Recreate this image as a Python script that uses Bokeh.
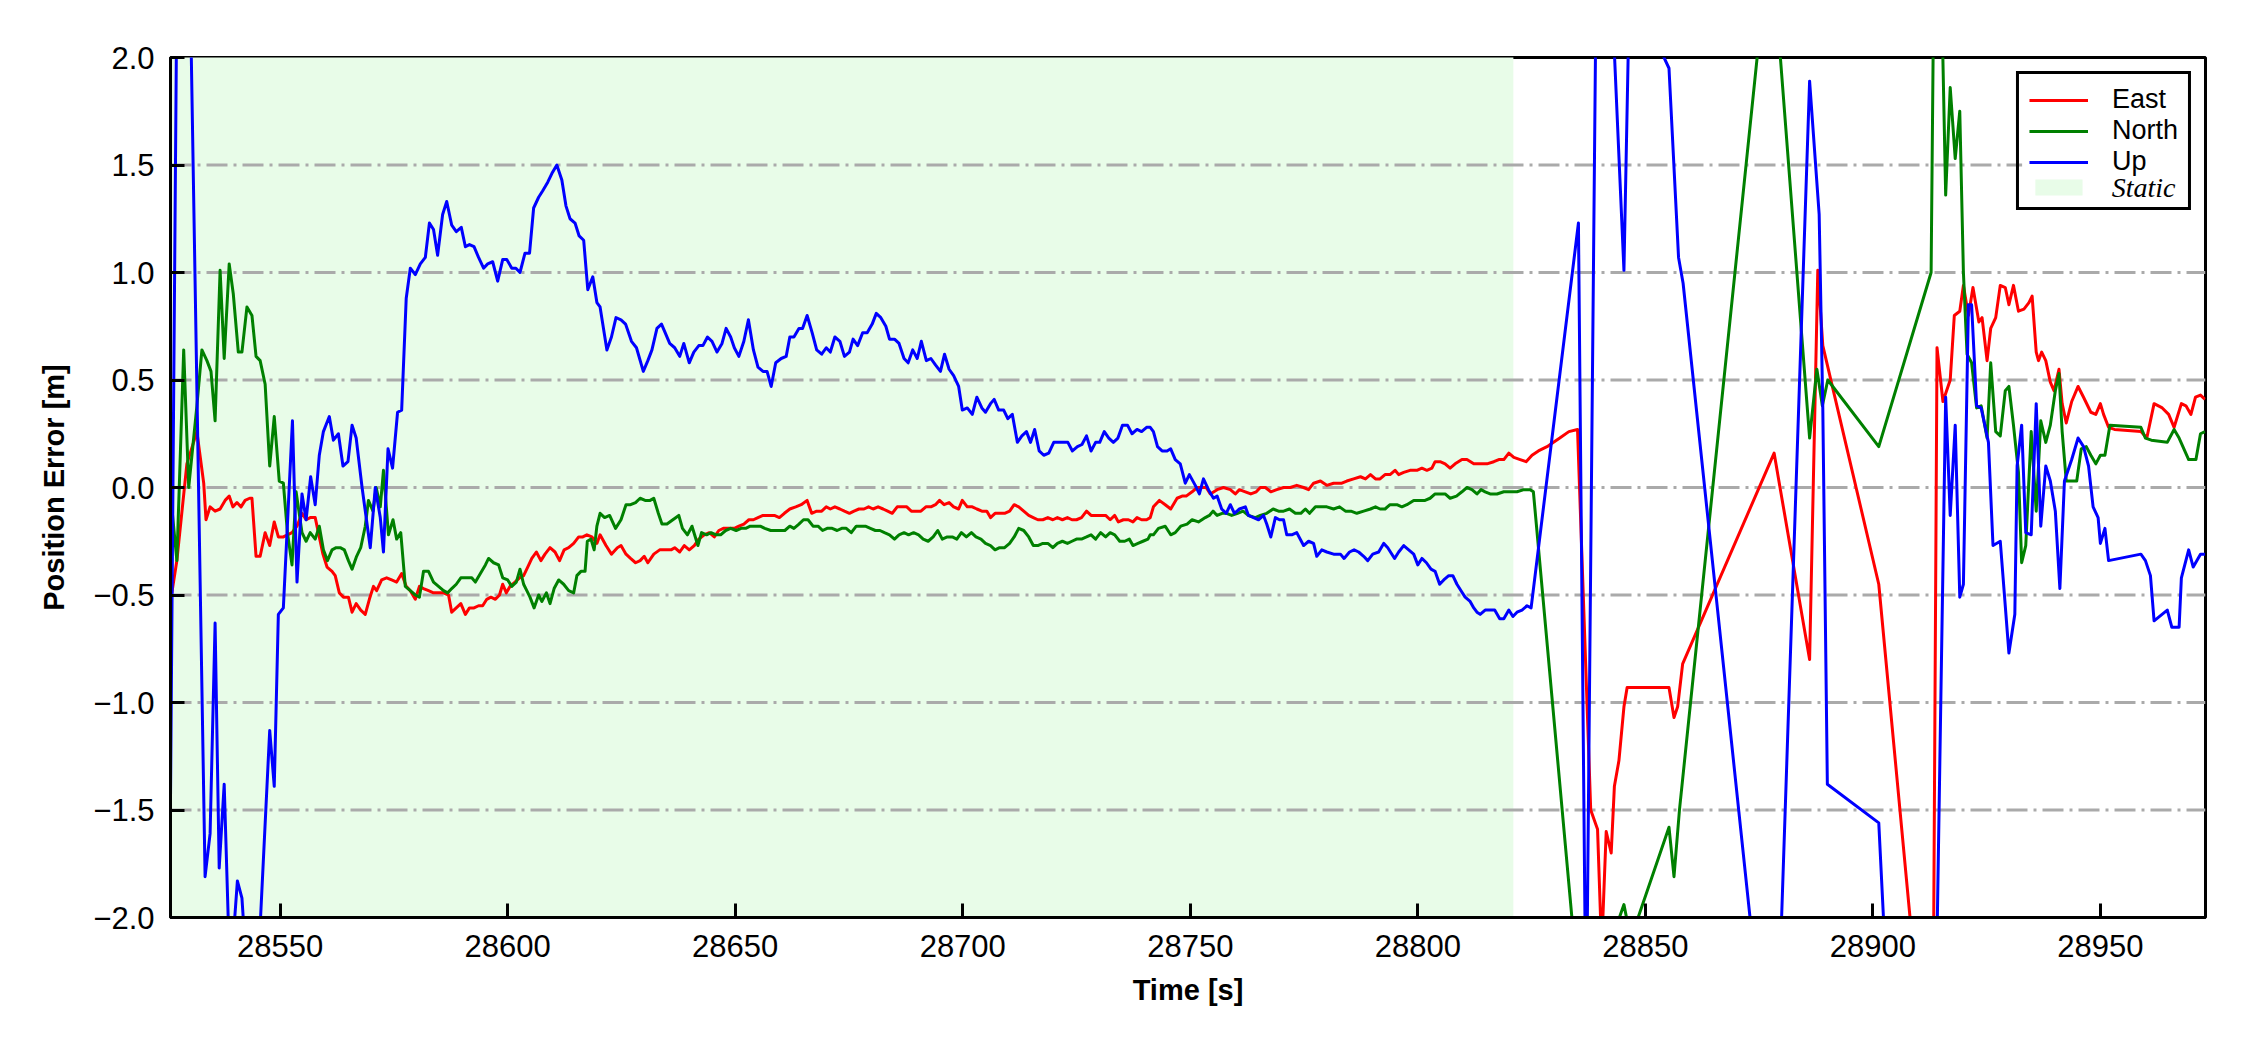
from bokeh.plotting import figure
from bokeh.models import (Range1d, FixedTicker, CustomJSTickFormatter, Legend,
                          LegendItem)
from bokeh.core.properties import value
from bokeh.embed import file_html
from bokeh.resources import INLINE

# ---------------- data (time [s], error [m]) ----------------
EAST_PTS = [
    (28526.2, -0.49), (28527.3, -0.34), (28529.5, 0.11), (28531.7, 0.26), (28533.2, 0.02), (28533.7, -0.15),
    (28534.6, -0.09), (28535.7, -0.11), (28536.8, -0.10), (28537.9, -0.06), (28538.8, -0.04), (28539.6, -0.09),
    (28540.5, -0.07), (28541.4, -0.09), (28542.3, -0.06), (28543.3, -0.05), (28543.8, -0.05), (28544.7, -0.32),
    (28545.6, -0.32), (28546.7, -0.21), (28547.7, -0.27), (28548.7, -0.16), (28549.6, -0.23), (28550.7, -0.23),
    (28551.6, -0.22), (28552.6, -0.21), (28553.7, -0.18), (28554.8, -0.12), (28555.7, -0.15), (28556.6, -0.14),
    (28557.7, -0.14), (28558.4, -0.21), (28559.4, -0.31), (28560.3, -0.37), (28561.4, -0.39), (28562.1, -0.41),
    (28563.0, -0.49), (28563.9, -0.51), (28565.0, -0.51), (28565.8, -0.58), (28566.7, -0.54), (28567.7, -0.57),
    (28568.7, -0.59), (28569.6, -0.52), (28570.5, -0.46), (28571.2, -0.48), (28572.3, -0.43), (28573.4, -0.42),
    (28574.5, -0.43), (28575.6, -0.44), (28576.7, -0.40), (28577.7, -0.46), (28578.6, -0.48), (28579.7, -0.52),
    (28580.6, -0.46), (28581.5, -0.47), (28582.6, -0.48), (28583.7, -0.49), (28584.8, -0.49), (28585.9, -0.49),
    (28587.0, -0.50), (28587.7, -0.58), (28588.7, -0.56), (28589.7, -0.54), (28590.7, -0.59), (28591.6, -0.56),
    (28592.6, -0.56), (28593.6, -0.55), (28594.5, -0.55), (28595.4, -0.52), (28596.3, -0.51), (28597.3, -0.52),
    (28598.2, -0.50), (28598.9, -0.45), (28599.7, -0.49), (28600.5, -0.46), (28601.6, -0.44), (28602.6, -0.42),
    (28603.5, -0.41), (28604.4, -0.37), (28605.3, -0.33), (28606.3, -0.30), (28607.3, -0.34), (28608.2, -0.31),
    (28609.3, -0.28), (28610.4, -0.30), (28611.4, -0.34), (28612.4, -0.29), (28613.4, -0.28), (28614.5, -0.26),
    (28615.6, -0.23), (28616.5, -0.23), (28617.4, -0.22), (28618.5, -0.23), (28619.6, -0.26),
    (28620.3, -0.22), (28621.6, -0.27), (28622.8, -0.31), (28624.1, -0.28), (28624.9, -0.27), (28626.0, -0.31),
    (28627.0, -0.33), (28628.1, -0.35), (28629.1, -0.34), (28630.0, -0.32), (28630.8, -0.35), (28632.1, -0.31),
    (28633.4, -0.29), (28634.6, -0.29), (28635.9, -0.29), (28636.7, -0.28), (28637.8, -0.30), (28638.8, -0.27),
    (28639.9, -0.29), (28641.0, -0.27), (28642.0, -0.24), (28643.2, -0.22), (28644.3, -0.21), (28645.4, -0.23),
    (28646.4, -0.20), (28647.4, -0.19), (28648.5, -0.19), (28649.8, -0.19), (28650.8, -0.18), (28651.9, -0.17),
    (28653.0, -0.15), (28654.0, -0.15), (28655.0, -0.14), (28656.1, -0.13), (28657.4, -0.13), (28658.6, -0.13),
    (28659.7, -0.14), (28660.8, -0.12), (28662.0, -0.10), (28663.3, -0.09), (28664.5, -0.08), (28665.8, -0.06),
    (28666.8, -0.12), (28667.9, -0.11), (28669.0, -0.11), (28670.0, -0.09), (28670.9, -0.10), (28671.9, -0.09),
    (28673.0, -0.10), (28674.0, -0.11), (28675.1, -0.12), (28676.1, -0.11), (28677.2, -0.10), (28678.3, -0.10),
    (28679.3, -0.09), (28680.3, -0.10), (28681.4, -0.09), (28682.5, -0.10), (28683.5, -0.11), (28684.5, -0.12),
    (28685.6, -0.09), (28686.6, -0.09), (28687.7, -0.09), (28688.7, -0.11), (28689.8, -0.11), (28690.8, -0.11),
    (28691.9, -0.09), (28693.0, -0.09), (28694.0, -0.08), (28694.9, -0.06), (28695.9, -0.08), (28697.0, -0.07),
    (28698.0, -0.09), (28699.1, -0.10), (28699.9, -0.06), (28701.0, -0.09), (28702.1, -0.09), (28703.1, -0.10),
    (28704.2, -0.11), (28705.3, -0.11), (28706.1, -0.14), (28707.1, -0.12), (28708.1, -0.12), (28709.2, -0.12),
    (28710.3, -0.11), (28711.3, -0.08), (28712.3, -0.09), (28713.4, -0.11), (28714.5, -0.13), (28715.5, -0.14),
    (28716.5, -0.15), (28717.6, -0.15), (28718.7, -0.14), (28719.8, -0.15), (28720.8, -0.14), (28721.9, -0.15),
    (28723.0, -0.14), (28724.0, -0.15), (28725.0, -0.15), (28726.1, -0.14), (28727.2, -0.11), (28728.2, -0.13),
    (28729.2, -0.13), (28730.3, -0.13), (28731.4, -0.13), (28732.4, -0.15), (28733.4, -0.13), (28734.2, -0.16),
    (28735.3, -0.15), (28736.4, -0.15), (28737.4, -0.16), (28738.3, -0.14), (28739.3, -0.15), (28740.4, -0.15),
    (28741.2, -0.14), (28741.9, -0.09), (28743.2, -0.06), (28744.5, -0.08), (28745.7, -0.10), (28747.1, -0.05),
    (28748.2, -0.04), (28749.1, -0.04), (28750.4, -0.02), (28751.5, 0.00), (28752.6, 0.00), (28753.5, 0.00),
    (28754.4, -0.03), (28755.9, -0.01), (28757.3, 0.00), (28758.8, -0.01), (28759.9, -0.03), (28760.8, -0.01),
    (28762.1, -0.02), (28763.3, -0.03), (28764.5, -0.02), (28765.4, 0.00), (28766.5, 0.00), (28767.7, -0.02),
    (28769.0, -0.01), (28770.5, 0.00), (28772.0, 0.00), (28773.4, 0.01), (28774.9, 0.00), (28776.0, -0.01),
    (28777.1, 0.02), (28778.6, 0.03), (28780.0, 0.01), (28781.5, 0.02), (28783.3, 0.02), (28784.4, 0.03),
    (28785.9, 0.04), (28787.4, 0.05), (28788.5, 0.04), (28789.6, 0.06), (28790.7, 0.04), (28791.7, 0.04),
    (28792.8, 0.06), (28793.9, 0.06), (28795.0, 0.08), (28795.8, 0.06), (28796.9, 0.07), (28798.3, 0.08),
    (28799.8, 0.08), (28800.9, 0.09), (28802.0, 0.08), (28803.1, 0.09), (28803.8, 0.12), (28804.9, 0.12),
    (28806.0, 0.11), (28807.1, 0.09), (28808.2, 0.11), (28809.7, 0.13), (28810.8, 0.13), (28812.3, 0.11),
    (28813.7, 0.11), (28815.2, 0.11), (28816.7, 0.12), (28817.8, 0.13), (28818.9, 0.13), (28820.0, 0.16),
    (28821.1, 0.14), (28822.5, 0.13), (28823.8, 0.12), (28825.1, 0.15), (28826.5, 0.17), (28828.4, 0.19),
    (28829.1, 0.20), (28831.2, 0.23), (28833.2, 0.26), (28835.1, 0.27),
    (28838.0, -1.50), (28839.5, -1.59), (28840.4, -2.15), (28841.4, -1.60), (28842.5, -1.70), (28843.2, -1.39),
    (28844.2, -1.27), (28845.3, -1.02), (28846.0, -0.93), (28855.2, -0.93), (28856.3, -1.07), (28857.1, -1.02),
    (28858.2, -0.82), (28878.3, 0.16), (28886.1, -0.80), (28887.9, 1.01), (28889.0, 0.66), (28901.3, -0.45),
    (28909.5, -2.30), (28913.3, -2.30), (28914.1, 0.65), (28915.4, 0.40), (28917.0, 0.50), (28917.9, 0.80),
    (28919.1, 0.82), (28919.9, 0.94), (28921.0, 0.80), (28922.0, 0.93), (28923.3, 0.77), (28924.0, 0.79),
    (28925.1, 0.59), (28925.9, 0.74), (28927.0, 0.79), (28928.0, 0.94), (28929.1, 0.93), (28929.9, 0.85),
    (28930.9, 0.94), (28932.0, 0.82), (28933.2, 0.83), (28934.3, 0.86), (28935.0, 0.89), (28935.9, 0.63),
    (28936.4, 0.59), (28937.1, 0.63), (28938.0, 0.59), (28939.0, 0.49), (28939.8, 0.45), (28940.9, 0.55),
    (28941.6, 0.39), (28942.5, 0.30), (28943.7, 0.40), (28945.1, 0.47), (28946.3, 0.42), (28947.9, 0.35),
    (28949.0, 0.34), (28950.0, 0.39), (28950.7, 0.34), (28951.8, 0.28), (28953.1, 0.27), (28958.9, 0.26),
    (28960.2, 0.23), (28961.8, 0.39), (28963.6, 0.37), (28965.0, 0.34), (28966.2, 0.28), (28967.8, 0.39),
    (28968.8, 0.38), (28969.9, 0.34), (28970.9, 0.42), (28972.0, 0.43), (28973.0, 0.41),
]

NORTH_PTS = [
    (28526.0, -0.05), (28527.3, -0.34), (28528.8, 0.64), (28529.9, 0.00), (28531.7, 0.38), (28532.8, 0.64),
    (28533.9, 0.59), (28534.8, 0.54), (28535.7, 0.31), (28536.8, 1.01), (28537.7, 0.60), (28538.8, 1.04),
    (28539.7, 0.90), (28540.8, 0.63), (28541.6, 0.63), (28542.7, 0.84), (28543.8, 0.80), (28544.7, 0.61),
    (28545.6, 0.59), (28546.7, 0.48), (28547.7, 0.10), (28548.7, 0.33), (28549.8, 0.03), (28550.7, 0.02),
    (28551.6, -0.21), (28552.6, -0.36), (28553.5, -0.02), (28554.8, -0.21), (28555.7, -0.25), (28556.6, -0.21),
    (28557.7, -0.24), (28558.6, -0.18), (28559.5, -0.29), (28560.4, -0.34), (28561.4, -0.29), (28562.3, -0.28),
    (28563.2, -0.28), (28564.1, -0.29), (28565.0, -0.34), (28565.8, -0.38), (28566.8, -0.32), (28567.7, -0.28),
    (28568.7, -0.18), (28569.4, -0.06), (28570.4, -0.11), (28571.1, 0.00), (28572.0, -0.09), (28572.7, 0.08),
    (28573.8, -0.22), (28574.8, -0.15), (28575.6, -0.24), (28576.5, -0.21), (28577.5, -0.46), (28578.6, -0.48),
    (28579.7, -0.50), (28580.6, -0.51), (28581.5, -0.39), (28582.6, -0.39), (28583.7, -0.44), (28584.8, -0.46),
    (28585.9, -0.48), (28586.8, -0.49), (28587.7, -0.47), (28588.7, -0.45), (28589.7, -0.42), (28591.0, -0.42),
    (28592.1, -0.42), (28592.9, -0.44), (28594.0, -0.40), (28595.1, -0.36), (28595.8, -0.33), (28596.9, -0.35),
    (28598.0, -0.36), (28598.9, -0.42), (28600.0, -0.43), (28600.9, -0.46), (28601.9, -0.44), (28602.7, -0.38),
    (28603.5, -0.45), (28604.2, -0.48), (28604.9, -0.51), (28605.8, -0.56), (28606.8, -0.50), (28607.5, -0.53),
    (28608.5, -0.49), (28609.3, -0.54), (28610.2, -0.47), (28611.2, -0.43), (28612.3, -0.45), (28613.4, -0.48),
    (28614.5, -0.49), (28615.2, -0.41), (28616.1, -0.39), (28617.0, -0.39), (28617.5, -0.25), (28618.3, -0.24),
    (28619.0, -0.29), (28619.6, -0.18),
    (28620.3, -0.12), (28621.3, -0.14), (28622.4, -0.13), (28623.7, -0.19), (28624.9, -0.15), (28626.0, -0.08),
    (28627.0, -0.08), (28628.1, -0.07), (28629.1, -0.05), (28630.2, -0.06), (28631.3, -0.06), (28632.1, -0.05),
    (28633.1, -0.12), (28633.9, -0.17), (28635.0, -0.17), (28636.3, -0.15), (28637.6, -0.13), (28638.4, -0.19),
    (28639.5, -0.22), (28640.5, -0.18), (28641.8, -0.27), (28642.6, -0.21), (28643.7, -0.22), (28644.7, -0.21),
    (28645.8, -0.22), (28646.8, -0.22), (28647.9, -0.20), (28649.0, -0.19), (28650.2, -0.20), (28651.3, -0.19),
    (28652.3, -0.19), (28653.3, -0.18), (28654.4, -0.18), (28655.5, -0.18), (28656.5, -0.19), (28657.8, -0.20),
    (28658.9, -0.20), (28659.9, -0.20), (28660.9, -0.20), (28662.0, -0.18), (28662.9, -0.19), (28664.0, -0.17),
    (28665.0, -0.15), (28666.0, -0.15), (28667.1, -0.18), (28668.2, -0.18), (28669.2, -0.20), (28670.2, -0.19),
    (28671.3, -0.19), (28672.4, -0.20), (28673.4, -0.19), (28674.4, -0.19), (28675.5, -0.21), (28676.6, -0.18),
    (28677.6, -0.18), (28678.6, -0.18), (28679.7, -0.19), (28680.8, -0.20), (28681.8, -0.20), (28682.8, -0.21),
    (28683.9, -0.22), (28685.0, -0.24), (28686.0, -0.22), (28687.1, -0.21), (28688.1, -0.22), (28689.2, -0.21),
    (28690.3, -0.22), (28691.3, -0.24), (28692.4, -0.25), (28693.5, -0.23), (28694.5, -0.20), (28695.5, -0.24),
    (28696.6, -0.23), (28697.7, -0.23), (28698.7, -0.24), (28699.7, -0.21), (28700.8, -0.23), (28701.9, -0.21),
    (28702.9, -0.23), (28704.0, -0.24), (28705.0, -0.26), (28706.1, -0.27), (28707.1, -0.29), (28708.1, -0.28),
    (28709.2, -0.28), (28710.3, -0.26), (28711.3, -0.23), (28712.3, -0.19), (28713.4, -0.20), (28714.5, -0.23),
    (28715.5, -0.27), (28716.5, -0.27), (28717.6, -0.26), (28718.7, -0.26), (28719.8, -0.28), (28720.8, -0.26),
    (28721.9, -0.25), (28723.0, -0.26), (28724.0, -0.25), (28725.0, -0.24), (28726.1, -0.24), (28727.2, -0.23),
    (28728.2, -0.22), (28729.2, -0.24), (28730.3, -0.21), (28731.4, -0.23), (28732.4, -0.21), (28733.4, -0.22),
    (28734.5, -0.25), (28735.6, -0.25), (28736.6, -0.24), (28737.4, -0.27), (28738.5, -0.26), (28739.6, -0.25),
    (28740.7, -0.24),
    (28741.2, -0.22), (28741.9, -0.22), (28743.0, -0.19), (28744.5, -0.18), (28745.7, -0.22), (28746.7, -0.21),
    (28747.9, -0.18), (28749.3, -0.17), (28750.4, -0.15), (28751.8, -0.16), (28753.3, -0.14), (28754.2, -0.13),
    (28755.0, -0.11), (28755.9, -0.13), (28757.0, -0.12), (28758.0, -0.12), (28759.1, -0.13), (28760.4, -0.12),
    (28761.6, -0.11), (28762.8, -0.13), (28764.3, -0.14), (28765.4, -0.13), (28766.8, -0.12), (28768.2, -0.10),
    (28769.4, -0.11), (28770.5, -0.11), (28771.8, -0.10), (28773.1, -0.12), (28774.3, -0.12), (28775.3, -0.10),
    (28776.2, -0.12), (28777.5, -0.09), (28778.6, -0.09), (28780.0, -0.09), (28781.5, -0.10), (28782.8, -0.09),
    (28784.1, -0.11), (28785.3, -0.11), (28786.6, -0.12), (28788.1, -0.11), (28789.6, -0.10), (28790.7, -0.09),
    (28791.7, -0.10), (28792.8, -0.10), (28793.9, -0.08), (28795.4, -0.08), (28796.5, -0.09), (28797.6, -0.08),
    (28799.1, -0.06), (28800.2, -0.06), (28801.6, -0.06), (28802.7, -0.05), (28803.8, -0.03), (28804.9, -0.03),
    (28806.0, -0.03), (28807.1, -0.05), (28808.5, -0.04), (28809.7, -0.02), (28810.8, 0.00), (28811.9, -0.01),
    (28813.0, -0.03), (28813.9, -0.01), (28814.8, -0.02), (28815.9, -0.03), (28817.4, -0.03), (28818.9, -0.02),
    (28820.3, -0.02), (28821.8, -0.02), (28823.3, -0.01), (28824.7, -0.01), (28825.4, -0.02),
    (28836.0, -2.50), (28845.3, -1.94), (28846.8, -2.10), (28855.2, -1.58), (28856.3, -1.81), (28857.5, -1.50),
    (28877.5, 2.60), (28886.1, 0.23), (28887.7, 0.55), (28888.9, 0.38), (28890.1, 0.50), (28901.3, 0.19),
    (28912.8, 1.00), (28913.5, 2.60), (28915.0, 2.40), (28916.0, 1.36), (28917.0, 1.86), (28918.1, 1.53),
    (28919.1, 1.75), (28919.9, 1.00), (28920.7, 0.62), (28921.7, 0.58), (28922.8, 0.37), (28923.8, 0.38),
    (28925.1, 0.23), (28925.9, 0.58), (28927.0, 0.26), (28928.0, 0.24), (28929.1, 0.45), (28929.9, 0.47),
    (28930.9, 0.29), (28932.0, 0.07), (28932.7, -0.35), (28933.6, -0.27), (28934.8, 0.26), (28935.9, -0.11),
    (28936.9, 0.31), (28938.0, 0.21), (28939.0, 0.29), (28940.1, 0.45), (28940.9, 0.53), (28941.6, 0.26),
    (28942.5, 0.03), (28944.8, 0.03), (28945.8, 0.18), (28946.9, 0.19), (28947.9, 0.15), (28949.0, 0.11),
    (28950.0, 0.15), (28951.0, 0.15), (28952.1, 0.29), (28958.9, 0.28), (28959.9, 0.23), (28961.2, 0.22),
    (28964.7, 0.21), (28966.2, 0.27), (28967.3, 0.23), (28969.4, 0.13), (28971.0, 0.13), (28972.0, 0.25),
    (28973.0, 0.26),
]

UP_PTS = [
    (28525.9, -1.45), (28527.4, 2.60), (28530.0, 2.60), (28533.5, -1.81), (28534.6, -1.61), (28535.7, -0.63),
    (28536.6, -1.77), (28537.7, -1.38), (28539.0, -2.30), (28540.6, -1.83), (28541.6, -1.91), (28542.8, -2.30),
    (28545.0, -2.30), (28547.7, -1.13), (28548.7, -1.39), (28549.6, -0.59), (28550.7, -0.56), (28552.7, 0.31),
    (28553.7, -0.44), (28554.8, -0.03), (28555.7, -0.15), (28556.7, 0.05), (28557.7, -0.08), (28558.6, 0.15),
    (28559.5, 0.26), (28560.8, 0.33), (28561.7, 0.22), (28562.8, 0.25), (28563.8, 0.10), (28564.9, 0.12),
    (28565.8, 0.29), (28566.7, 0.23), (28568.0, 0.00), (28569.8, -0.28), (28570.9, 0.00), (28572.0, -0.14),
    (28572.7, -0.30), (28573.7, 0.18), (28574.7, 0.09), (28575.8, 0.35), (28576.7, 0.36), (28577.7, 0.88),
    (28578.6, 1.02), (28579.7, 0.99), (28580.8, 1.04), (28581.9, 1.07), (28582.8, 1.23), (28583.7, 1.20),
    (28584.6, 1.08), (28585.7, 1.27), (28586.6, 1.33), (28587.7, 1.22), (28588.7, 1.19), (28589.8, 1.21),
    (28590.7, 1.12), (28591.6, 1.13), (28592.6, 1.12), (28593.6, 1.07), (28594.7, 1.02), (28595.6, 1.04),
    (28596.7, 1.05), (28597.8, 0.96), (28598.9, 1.06), (28599.8, 1.06), (28600.9, 1.02), (28601.8, 1.02),
    (28602.7, 1.00), (28603.8, 1.09), (28604.8, 1.09), (28605.7, 1.30), (28606.8, 1.35), (28607.7, 1.38),
    (28608.8, 1.42), (28609.7, 1.46), (28610.8, 1.50), (28611.9, 1.43), (28612.8, 1.31), (28613.7, 1.25),
    (28614.8, 1.23), (28615.7, 1.17), (28616.7, 1.15), (28617.6, 0.92), (28618.7, 0.98), (28619.6, 0.86),
    (28620.3, 0.84), (28621.8, 0.64), (28622.8, 0.70), (28623.8, 0.79), (28624.9, 0.78), (28625.9, 0.76),
    (28627.2, 0.68), (28628.3, 0.65), (28629.8, 0.54), (28630.8, 0.59), (28631.7, 0.64), (28632.8, 0.74),
    (28633.8, 0.76), (28634.6, 0.72), (28635.6, 0.67), (28636.7, 0.65), (28637.8, 0.61), (28638.7, 0.67),
    (28639.9, 0.58), (28640.9, 0.63), (28642.0, 0.66), (28642.9, 0.66), (28643.9, 0.70), (28644.9, 0.68),
    (28646.0, 0.63), (28647.1, 0.67), (28648.0, 0.74), (28649.0, 0.70), (28649.8, 0.65), (28650.8, 0.61),
    (28651.9, 0.68), (28652.9, 0.78), (28654.0, 0.64), (28655.0, 0.56), (28656.1, 0.54), (28657.0, 0.54),
    (28657.9, 0.47), (28658.9, 0.58), (28660.1, 0.60), (28661.2, 0.61), (28662.0, 0.70), (28662.9, 0.70),
    (28664.0, 0.74), (28664.8, 0.74), (28665.8, 0.80), (28666.9, 0.72), (28667.9, 0.64), (28669.0, 0.62),
    (28670.0, 0.65), (28670.9, 0.63), (28671.9, 0.70), (28673.0, 0.68), (28674.0, 0.61), (28675.1, 0.63),
    (28675.9, 0.69), (28676.9, 0.66), (28678.0, 0.72), (28679.0, 0.72), (28680.1, 0.76), (28681.0, 0.81),
    (28682.0, 0.79), (28683.1, 0.75), (28683.9, 0.69), (28685.0, 0.69), (28686.0, 0.67), (28687.1, 0.60),
    (28688.0, 0.58), (28689.0, 0.64), (28690.0, 0.60), (28690.9, 0.68), (28692.0, 0.59), (28693.0, 0.60),
    (28694.0, 0.57), (28695.1, 0.54), (28696.0, 0.62), (28697.0, 0.55), (28698.0, 0.52), (28699.1, 0.47),
    (28699.9, 0.36), (28701.0, 0.37), (28702.1, 0.34), (28703.1, 0.42), (28704.2, 0.37), (28705.0, 0.35),
    (28706.1, 0.39), (28706.9, 0.41), (28707.9, 0.36), (28709.0, 0.36), (28709.9, 0.32), (28710.9, 0.34),
    (28712.0, 0.21), (28713.0, 0.24), (28714.0, 0.26), (28714.9, 0.21), (28715.8, 0.27), (28716.8, 0.17),
    (28717.8, 0.15), (28718.9, 0.16), (28720.0, 0.21), (28721.0, 0.21), (28722.1, 0.21), (28723.1, 0.21),
    (28724.1, 0.17), (28725.2, 0.19), (28726.2, 0.20), (28727.2, 0.24), (28728.2, 0.17), (28729.2, 0.21),
    (28730.1, 0.21), (28731.1, 0.26), (28732.1, 0.23), (28733.1, 0.21), (28734.1, 0.23), (28735.1, 0.29),
    (28736.2, 0.29), (28737.2, 0.25), (28738.3, 0.27), (28739.3, 0.26), (28740.4, 0.28),
    (28741.2, 0.28), (28741.9, 0.26), (28742.8, 0.19), (28743.8, 0.17), (28744.9, 0.17), (28745.7, 0.18),
    (28746.7, 0.13), (28747.8, 0.11), (28748.9, 0.02), (28749.8, 0.06), (28751.1, 0.01), (28752.0, -0.03),
    (28752.9, 0.04), (28754.0, -0.01), (28755.1, -0.05), (28755.9, -0.04), (28756.9, -0.10), (28757.9, -0.12),
    (28758.8, -0.08), (28759.7, -0.12), (28760.8, -0.10), (28762.1, -0.09), (28762.8, -0.13), (28763.9, -0.14),
    (28765.0, -0.15), (28766.1, -0.13), (28766.8, -0.17), (28767.7, -0.23), (28768.7, -0.14), (28769.6, -0.15),
    (28770.5, -0.15), (28771.2, -0.22), (28772.3, -0.22), (28773.4, -0.21), (28774.9, -0.27), (28776.0, -0.25),
    (28777.1, -0.26), (28777.8, -0.32), (28778.9, -0.29), (28780.0, -0.30), (28781.5, -0.31), (28783.0, -0.31),
    (28783.8, -0.33), (28785.0, -0.30), (28786.0, -0.29), (28787.0, -0.30), (28788.1, -0.32), (28789.0, -0.34),
    (28790.1, -0.31), (28791.4, -0.30), (28792.5, -0.26), (28793.4, -0.28), (28794.9, -0.33), (28795.8, -0.30),
    (28796.9, -0.27), (28798.0, -0.29), (28799.1, -0.31), (28800.0, -0.36), (28800.9, -0.33), (28801.9, -0.35),
    (28802.9, -0.38), (28803.8, -0.39), (28804.8, -0.45), (28805.7, -0.43), (28806.8, -0.41), (28807.7, -0.41),
    (28808.6, -0.45), (28809.5, -0.48), (28810.4, -0.51), (28811.5, -0.53), (28812.3, -0.56), (28813.0, -0.58),
    (28813.7, -0.59), (28814.8, -0.57), (28815.9, -0.57), (28816.9, -0.57), (28818.0, -0.61), (28818.9, -0.61),
    (28820.0, -0.57), (28820.9, -0.60), (28821.8, -0.58), (28822.9, -0.57), (28824.0, -0.55), (28824.9, -0.56),
    (28835.3, 1.23), (28837.0, -2.60), (28839.3, 2.60), (28842.0, 2.60), (28845.3, 1.01), (28846.5, 2.30),
    (28853.0, 2.05), (28855.2, 1.95), (28857.3, 1.07), (28858.3, 0.95), (28876.0, -2.60), (28879.0, -2.60),
    (28886.1, 1.89), (28888.2, 1.27), (28889.0, 0.37), (28890.0, -1.38), (28901.3, -1.56), (28903.5, -2.50),
    (28913.8, -2.50), (28916.0, 0.42), (28917.0, -0.13), (28918.1, 0.29), (28919.1, -0.51), (28919.9, -0.45),
    (28921.0, 0.85), (28921.7, 0.85), (28922.8, 0.38), (28923.8, 0.37), (28925.4, 0.21), (28926.4, -0.27),
    (28928.0, -0.25), (28929.9, -0.77), (28931.2, -0.59), (28931.7, 0.10), (28932.7, 0.29), (28933.6, -0.21),
    (28934.8, -0.22), (28935.9, 0.39), (28936.9, -0.18), (28938.0, 0.10), (28939.0, 0.03), (28940.1, -0.11),
    (28941.1, -0.47), (28942.1, 0.03), (28943.7, 0.13), (28945.1, 0.23), (28946.3, 0.19), (28947.4, 0.10),
    (28948.4, -0.09), (28949.5, -0.14), (28950.0, -0.26), (28951.0, -0.19), (28951.8, -0.34), (28958.9, -0.31),
    (28959.9, -0.34), (28961.0, -0.41), (28961.8, -0.62), (28964.7, -0.57), (28965.7, -0.65), (28967.3, -0.65),
    (28967.8, -0.42), (28969.4, -0.29), (28970.4, -0.37), (28972.0, -0.31), (28973.0, -0.31),
]

STATIC_SPAN = (28525.9, 28821.0)          # static period [s]
X_RANGE = (28525.9, 28973.1)
Y_RANGE = (-2.0, 2.0)
X_TICKS = [28550, 28600, 28650, 28700, 28750, 28800, 28850, 28900, 28950]
Y_TICKS = [-2.0, -1.5, -1.0, -0.5, 0.0, 0.5, 1.0, 1.5, 2.0]
SERIES = [("East", EAST_PTS, "#ff0000"), ("North", NORTH_PTS, "#008000"), ("Up", UP_PTS, "#0000ff")]
STATIC_LABEL = "Static"
STATIC_LABEL_POS = (28952.5, 1.397)       # where the legend's "Static" text sits
LEGEND_BOX = (28932.8, 28969.9, 1.26, 1.93)  # area covered by the legend (left, right, bottom, top)

SANS = "Liberation Sans"

p = figure(width=2242, height=1042, output_backend="svg", toolbar_location=None,
           x_range=Range1d(*X_RANGE), y_range=Range1d(*Y_RANGE),
           min_border_left=170, min_border_right=37, min_border_top=57, min_border_bottom=125)
p.background_fill_color = "white"
p.border_fill_color = "white"
p.outline_line_color = "black"
p.outline_line_width = 3
p.outline_line_alpha = 1.0

# static shading (lowest layer)
static_r = p.quad(left=[STATIC_SPAN[0]], right=[STATIC_SPAN[1]], bottom=[-100], top=[100],
                  fill_color="#e8fce8", line_alpha=0, level="image")

# horizontal dash-dot grid lines at the inner y ticks; lines that pass behind the
# legend stop at the legend's left edge (the legend box is opaque in the original)
grid_y = [y for y in Y_TICKS if Y_RANGE[0] < y < Y_RANGE[1]]
grid_x1 = [LEGEND_BOX[0] if LEGEND_BOX[2] <= y <= LEGEND_BOX[3] else X_RANGE[1] for y in grid_y]
p.segment(x0=[X_RANGE[0]] * len(grid_y), x1=grid_x1, y0=grid_y, y1=grid_y,
          line_color="#aaaaaa", line_width=3, line_dash="21 6 3 6", level="underlay")

renderers = []
for name, pts, color in SERIES:
    xs = [a for a, _ in pts]
    ys = [b for _, b in pts]
    r = p.line(xs, ys, line_color=color, line_width=3, line_join="round")
    renderers.append((name, r))

xticker = FixedTicker(ticks=X_TICKS)
yticker = FixedTicker(ticks=Y_TICKS)
p.xaxis.ticker = xticker
p.yaxis.ticker = yticker
p.xgrid.visible = False
p.ygrid.visible = False

p.xaxis.formatter = CustomJSTickFormatter(code="return tick.toFixed(0);")
p.yaxis.formatter = CustomJSTickFormatter(
    code="return (tick < 0 ? '\\u2212' : '') + Math.abs(tick).toFixed(1);")

for ax in (p.xaxis[0], p.yaxis[0]):
    ax.axis_line_color = "black"
    ax.axis_line_width = 3
    ax.major_tick_in = 14
    ax.major_tick_out = 0
    ax.major_tick_line_width = 3
    ax.major_tick_line_color = "black"
    ax.minor_tick_in = 0
    ax.minor_tick_out = 0
    ax.major_label_text_font = SANS
    ax.major_label_text_font_size = "31px"
    ax.major_label_text_color = "black"
    ax.axis_label_text_font = SANS
    ax.axis_label_text_font_style = "bold"
    ax.axis_label_text_font_size = "29px"
    ax.axis_label_text_color = "black"

p.xaxis.axis_label = "Time [s]"
p.yaxis.axis_label = "Position Error [m]"
p.xaxis.major_label_standoff = 17
p.xaxis.axis_label_standoff = 14
p.yaxis.major_label_standoff = 16
p.yaxis.axis_label_standoff = 20

# italic serif "Static" entry text (shows through the transparent legend)
p.text(x=[STATIC_LABEL_POS[0]], y=[STATIC_LABEL_POS[1]], text=[STATIC_LABEL],
       text_font=value("Liberation Serif"), text_font_style="italic",
       text_font_size="28px", text_baseline="middle", text_align="left",
       text_color="black", level="annotation")

items = [LegendItem(label=value(n), renderers=[r]) for n, r in renderers]
items.append(LegendItem(label=value(" "), renderers=[static_r]))
legend = Legend(items=items, location="top_right", margin=14, padding=10, spacing=0,
                glyph_width=59, glyph_height=20, label_standoff=24,
                label_text_font=SANS, label_text_font_size="27px", label_text_color="black",
                border_line_color="black", border_line_width=3, border_line_alpha=1.0,
                background_fill_color="white", background_fill_alpha=0.0)
p.add_layout(legend)

open("out.html", "w").write(file_html(p, INLINE))
